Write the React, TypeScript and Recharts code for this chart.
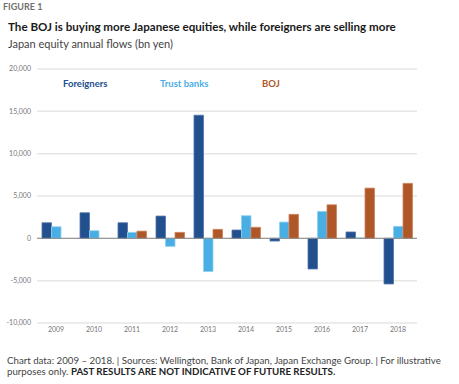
import { BarChart, Bar, XAxis, YAxis, CartesianGrid, ReferenceLine } from "recharts";

const years = ["2009", "2010", "2011", "2012", "2013", "2014", "2015", "2016", "2017", "2018"];
const foreigners = [1840, 3020, 1840, 2630, 14540, 980, -320, -3620, 750, -5390];
const trustBanks = [1370, 900, 700, -950, -3930, 2670, 1920, 3180, 50, 1410];
const boj = [0, 0, 850, 700, 1060, 1300, 2830, 3960, 5930, 6490];
const yTicks = [-10000, -5000, 0, 5000, 10000, 15000, 20000];

const SERIES = [
	{ key: "foreigners", name: "Foreigners", fill: "#22508e", stroke: "#4f74a8", legendX: 63 },
	{ key: "trustBanks", name: "Trust banks", fill: "#49aee3", stroke: "#8fd0f0", legendX: 160 },
	{ key: "boj", name: "BOJ", fill: "#b0572a", stroke: "#cd8257", legendX: 262 },
];

const data = years.map((year, i) => ({
	year,
	foreigners: foreigners[i],
	trustBanks: trustBanks[i],
	boj: boj[i],
}));

const FONT = "Lato, 'Open Sans', sans-serif";

export default function App() {
	return (
		<div style={{ position: "absolute", top: 0, left: 0, width: 459, height: 384, background: "#fff", fontFamily: FONT }}>
			<div style={{ position: "absolute", left: 3, top: 1, fontSize: 9, fontWeight: 700, color: "#6f6f6f" }}>FIGURE 1</div>
			<div style={{ position: "absolute", left: 8, top: 20, fontSize: 11.6, fontWeight: 700, color: "#1a1a1a", whiteSpace: "nowrap" }}>
				The BOJ is buying more Japanese equities, while foreigners are selling more
			</div>
			<div style={{ position: "absolute", left: 8, top: 37, fontSize: 11, color: "#444" }}>Japan equity annual flows (bn yen)</div>

			<div style={{ position: "absolute", left: 0, top: 0 }}>
				<BarChart width={459} height={384} data={data} margin={{ top: 69, right: 42, bottom: 41, left: 0 }} barGap={0} barSize={9.5}>
					<CartesianGrid vertical={false} stroke="#e6e6e6" strokeWidth={1.5} />
					<XAxis
						dataKey="year"
						height={20}
						axisLine={false}
						tickLine={false}
						tickSize={3}
						tickMargin={1}
						tick={{ fontSize: 7, fill: "#777", fontFamily: FONT }}
					/>
					<YAxis
						width={37}
						domain={[-10000, 20000]}
						ticks={yTicks}
						axisLine={false}
						tickLine={false}
						tickSize={4}
						tickMargin={2}
						tickFormatter={(v: number) => v.toLocaleString("en-US")}
						tick={{ fontSize: 7, fill: "#777", fontFamily: FONT }}
					/>
					{SERIES.map((s) => (
						<Bar key={s.key} dataKey={s.key} name={s.name} fill={s.fill} stroke={s.stroke} strokeWidth={0.8} isAnimationActive={false} />
					))}
					<ReferenceLine y={0} stroke="#8a8a8a" strokeWidth={1} />
				</BarChart>
			</div>

			{SERIES.map((s) => (
				<div key={s.key} style={{ position: "absolute", left: s.legendX, top: 78, fontSize: 9.5, fontWeight: 700, color: s.fill }}>
					{s.name}
				</div>
			))}

			<div style={{ position: "absolute", left: 7, top: 355, width: 452, fontSize: 9.7, lineHeight: "11px", color: "#444", whiteSpace: "nowrap" }}>
				<div>Chart data: 2009 – 2018. | Sources: Wellington, Bank of Japan, Japan Exchange Group. | For illustrative</div>
				<div>
					<span>purposes only. </span>
					<b style={{ color: "#222" }}>PAST RESULTS ARE NOT INDICATIVE OF FUTURE RESULTS.</b>
				</div>
			</div>
		</div>
	);
}
